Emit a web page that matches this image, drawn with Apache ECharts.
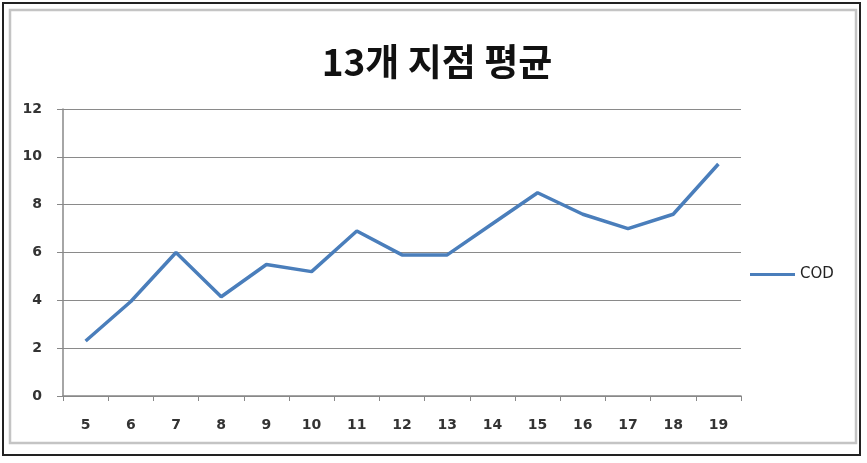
<!DOCTYPE html>
<html>
<head>
<meta charset="utf-8">
<script src="https://cdn.jsdelivr.net/npm/echarts@6/dist/echarts.min.js"></script>
<style>html,body{margin:0;padding:0;background:#fff;}#c{width:867px;height:463px;}</style>
</head>
<body>
<div id="c"></div>
<script>
var titleText = '13개 지점 평균';
var seriesName = 'COD';
var categories = ['5','6','7','8','9','10','11','12','13','14','15','16','17','18','19'];
var codValues = [2.3, 3.95, 6.0, 4.15, 5.5, 5.2, 6.9, 5.9, 5.9, 7.2, 8.5, 7.6, 7.0, 7.6, 9.7];
var yTicks = [0, 2, 4, 6, 8, 10, 12];

var chart = echarts.init(document.getElementById('c'));
chart.setOption({
  animation: false,
  backgroundColor: '#fff',
  graphic: [
    {type: 'rect', shape: {x: 3, y: 3, width: 857, height: 452}, style: {fill: 'none', stroke: '#222', lineWidth: 2}},
    {type: 'rect', shape: {x: 10, y: 10, width: 846, height: 433}, style: {fill: 'none', stroke: '#c4c4c4', lineWidth: 2.5}}
  ],
  title: {
    text: titleText,
    left: 432, top: 38, textAlign: 'center',
    textStyle: {fontFamily: 'Noto Sans CJK KR', fontWeight: 'bold', fontSize: 37, color: '#111'}
  },
  legend: {
    data: [seriesName],
    left: 745, top: 262,
    itemWidth: 45, itemHeight: 16, itemGap: 5,
    icon: 'path://M0,6.5 L45,6.5 L45,9.5 L0,9.5 Z',
    textStyle: {fontFamily: 'DejaVu Sans', fontSize: 15, color: '#222'}
  },
  grid: {left: 63, right: 126, top: 109, bottom: 67},
  xAxis: {
    type: 'category',
    data: categories,
    boundaryGap: true,
    axisLine: {lineStyle: {color: '#888', width: 1.5}},
    axisTick: {show: true, length: 5, lineStyle: {color: '#888'}},
    axisLabel: {margin: 22, fontFamily: 'DejaVu Sans', fontWeight: 'bold', fontSize: 14, color: '#333'}
  },
  yAxis: {
    type: 'value',
    min: yTicks[0], max: yTicks[yTicks.length - 1], interval: 2,
    axisLine: {show: true, lineStyle: {color: '#888', width: 1.5}},
    axisTick: {show: true, length: 6, lineStyle: {color: '#888'}},
    axisLabel: {margin: 21, fontFamily: 'DejaVu Sans', fontWeight: 'bold', fontSize: 14, color: '#333'},
    splitLine: {lineStyle: {color: '#8a8a8a', width: 1.2}}
  },
  series: [{
    name: seriesName,
    type: 'line',
    data: codValues,
    symbol: 'none',
    lineStyle: {color: '#4a7ebb', width: 3.5},
    itemStyle: {color: '#4a7ebb'}
  }]
});
</script>
</body>
</html>
